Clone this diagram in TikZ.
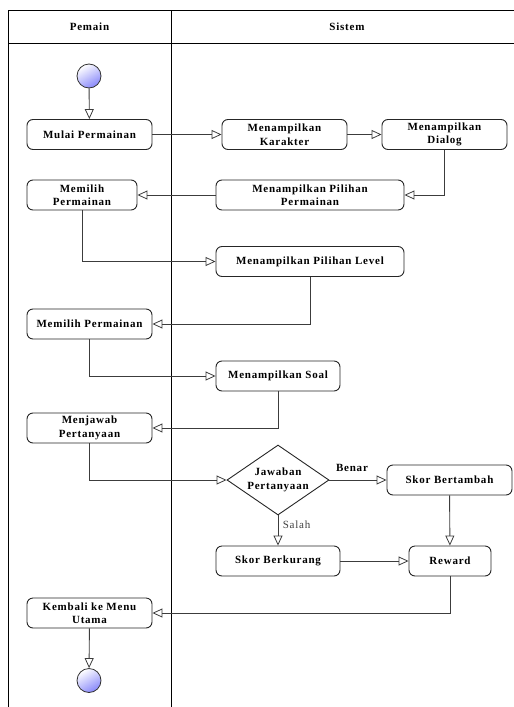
\documentclass[tikz,border=0pt]{standalone}
\usepackage{fontspec}
\setmainfont{Liberation Serif}[LetterSpace=7]
\usetikzlibrary{arrows.meta,shapes.geometric}
\definecolor{startblue}{RGB}{135,135,250}
\definecolor{linegray}{RGB}{60,60,60}
\tikzset{
  act/.style={draw=black!85, line width=0.9pt, rounded corners=6pt, minimum height=30pt,
    align=center, font=\fontsize{11}{13.5}\selectfont\bfseries, inner sep=1pt},
  dec/.style={draw=black!85, line width=0.9pt, diamond, minimum width=102pt, minimum height=70pt,
    inner sep=0pt},
  dectext/.style={align=center, font=\fontsize{11}{13.5}\selectfont\bfseries},
  term/.style={circle, draw=black!80, line width=0.8pt, minimum size=24pt, inner sep=0pt,
    shading=axis, top color=white, bottom color=startblue, shading angle=30},
  flow/.style={draw=linegray, line width=0.9pt, -{Triangle[open, length=10pt, width=9pt, line width=0.8pt]}},
  lane/.style={draw=black, line width=0.9pt},
  hdr/.style={font=\fontsize{11}{12}\selectfont\bfseries}
}
\begin{document}
\begin{tikzpicture}[x=1pt,y=-1pt]
\useasboundingbox (0,0) rectangle (514,707);
% swimlanes
\draw[lane] (8,707) -- (8,10) -- (514,10);
\draw[lane] (8,43) -- (514,43);
\draw[lane] (171,10) -- (171,707);
\node[hdr] (hp) at (89.5,26.5) {Pemain};
\node[hdr] (hs) at (347,26.5) {Sistem};
% nodes
\node[term] (start) at (89,76) {};
\node[act, minimum width=125pt] (mulai) at (89.5,134.5) {Mulai Permainan};
\node[act, minimum width=125pt] (karakter) at (284.5,134.5) {Menampilkan\\Karakter};
\node[act, minimum width=125pt] (dialog) at (444.5,134.5) {Menampilkan\\Dialog};
\node[act, minimum width=110pt] (memilih1) at (82,195) {Memilih\\Permainan};
\node[act, minimum width=188pt] (pilperm) at (310,195) {Menampilkan Pilihan\\Permainan};
\node[act, minimum width=188pt] (level) at (310,261.5) {Menampilkan Pilihan Level};
\node[act, minimum width=125pt] (memilih2) at (89.5,324) {Memilih Permainan};
\node[act, minimum width=124pt] (soal) at (278,376) {Menampilkan Soal};
\node[act, minimum width=125pt] (menjawab) at (89.5,428) {Menjawab\\Pertanyaan};
\node[dec] (jawab) at (278,480) {};
\node[dectext] (jawabtext) at (jawab.center) {Jawaban\\Pertanyaan};
\node[act, minimum width=125pt] (tambah) at (449.5,480) {Skor Bertambah};
\node[act, minimum width=124pt] (kurang) at (278,561) {Skor Berkurang};
\node[act, minimum width=82pt] (reward) at (450,561) {Reward};
\node[act, minimum width=125pt] (kembali) at (89.5,613) {Kembali ke Menu\\Utama};
\node[term] (end) at (89,680.5) {};
% flows
\draw[flow] (start) -- (mulai);
\draw[flow] (mulai) -- (karakter);
\draw[flow] (karakter) -- (dialog);
\draw[flow] (dialog.south) |- (pilperm.east);
\draw[flow] (pilperm) -- (memilih1);
\draw[flow] (memilih1.south) |- (level.west);
\draw[flow] (level.south) |- (memilih2.east);
\draw[flow] (memilih2.south) |- (soal.west);
\draw[flow] (soal.south) |- (menjawab.east);
\draw[flow] (menjawab.south) |- (jawab.west);
\draw[flow] (jawab.east) -- node[above=5pt, font=\fontsize{11}{12}\selectfont\bfseries, xshift=-6pt] (benar) {Benar} (tambah.west);
\draw[flow] (jawab.south) -- node[right=1pt, font=\fontsize{11}{12}\selectfont, text=black!75, pos=0.3] (salah) {Salah} (kurang.north);
\draw[flow] (tambah) -- (reward);
\draw[flow] (kurang) -- (reward);
\draw[flow] (reward.south) |- (kembali.east);
\draw[flow] (kembali) -- (end);
\end{tikzpicture}
\end{document}
